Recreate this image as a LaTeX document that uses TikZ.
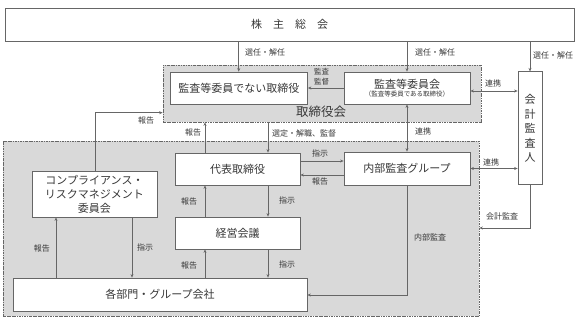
\documentclass[tikz,border=0pt]{standalone}
\usepackage{fontspec}
\setmainfont{Noto Sans CJK JP}
\usetikzlibrary{arrows.meta,calc}
\definecolor{linec}{HTML}{666666}
\definecolor{txtc}{HTML}{383838}
\definecolor{regfill}{HTML}{D9D9D9}
\begin{document}
\begin{tikzpicture}[x=1pt,y=-1pt,
  box/.style={draw=linec, line width=0.8pt, fill=white, rectangle, inner sep=0pt, align=center, text=txtc, font=\fontsize{11}{14}\selectfont},
  region/.style={draw=linec, fill=regfill, line width=0.7pt, dash pattern=on 2.5pt off 1pt on 0.7pt off 1pt, inner sep=0pt},
  lbl/.style={text=txtc, font=\fontsize{8}{9.5}\selectfont, inner sep=0pt, align=center},
  arr/.style={draw=linec, line width=0.8pt, -{Stealth[length=3.5pt,width=3pt]}},
  darr/.style={draw=linec, line width=0.8pt, {Stealth[length=3.5pt,width=3pt]}-{Stealth[length=3.5pt,width=3pt]}}]
\useasboundingbox (0,0) rectangle (579,319);
% regions
\node[region, minimum width=318pt, minimum height=57pt] (tori) at (322,93.5) {};
\node[region, minimum width=476pt, minimum height=175pt] (bottom) at (241,228.5) {};
\node[text=txtc, font=\fontsize{12.5}{14}\selectfont, inner sep=0pt] (torilbl) at (321,111.5) {取締役会};
% boxes
\node[box, minimum width=569pt, minimum height=33pt] (share) at (289.5,24.5) {株　主　総　会};
\node[box, minimum width=137.5pt, minimum height=32pt] (nonaudit) at (238.75,88) {監査等委員でない取締役};
\node[box, minimum width=126pt, minimum height=32pt, font=\fontsize{11}{12}\selectfont] (audit) at (407,88) {監査等委員会\\[-3.5pt]{\fontsize{6.5}{8}\selectfont （監査等委員である取締役）}};
\node[box, minimum width=24pt, minimum height=113pt, font=\fontsize{11}{14.5}\selectfont] (kaikei) at (530,128.3) {会\\計\\監\\査\\人};
\node[box, minimum width=125pt, minimum height=32pt] (daihyo) at (237.5,169) {代表取締役};
\node[box, minimum width=125pt, minimum height=32pt] (keiei) at (237.5,233) {経営会議};
\node[box, minimum width=125pt, minimum height=46pt] (comp) at (94.5,194) {コンプライアンス・\\リスクマネジメント\\委員会};
\node[box, minimum width=294pt, minimum height=33pt] (kakubu) at (160,294.5) {各部門・グループ会社};
\node[box, minimum width=126pt, minimum height=33pt] (naibu) at (407,168.5) {内部監査グループ};
% helper coordinates
\coordinate (c1) at ([yshift=-3pt]audit.east);
\coordinate (xl) at (205,0);
\coordinate (xr) at (268,0);
\coordinate (k2) at (kaikei.south |- 0,228);
\coordinate (n2) at (naibu.south |- 0,295);
\coordinate (p1) at (95,112.7);
\coordinate (cl) at (56,0);
\coordinate (cr) at (132,0);
% connectors
\draw[arr] (share.south -| nonaudit.north) -- (nonaudit.north);
\draw[arr] (share.south -| audit.north) -- (audit.north);
\draw[arr] (share.south -| kaikei.north) -- (kaikei.north);
\draw[arr] (audit.west) -- (nonaudit.east);
\draw[darr] (c1) -- (c1 -| kaikei.west);
\draw[darr] (audit.south) -- (naibu.north);
\draw[darr] (naibu.east) -- (naibu.east -| kaikei.west);
\draw[arr] (kaikei.south) -- (k2) -- (k2 -| bottom.east);
\draw[arr] (naibu.south) -- (n2) -- (n2 -| kakubu.east);
\draw[arr] (daihyo.north -| xl) -- (tori.south -| xl);
\draw[arr] (tori.south -| xr) -- (daihyo.north -| xr);
\draw[arr] (daihyo.east |- 0,161) -- (naibu.west |- 0,161);
\draw[arr] (naibu.west |- 0,175) -- (daihyo.east |- 0,175);
\draw[arr] (keiei.north -| xl) -- (daihyo.south -| xl);
\draw[arr] (daihyo.south -| xr) -- (keiei.north -| xr);
\draw[arr] (kakubu.north -| xl) -- (keiei.south -| xl);
\draw[arr] (keiei.south -| xr) -- (kakubu.north -| xr);
\draw[arr] (kakubu.north -| cl) -- (comp.south -| cl);
\draw[arr] (comp.south -| cr) -- (kakubu.north -| cr);
\draw[arr] (comp.north -| p1) -- (p1) -- (p1 -| tori.west);
% labels
\node[lbl, anchor=west] (l1) at (245,52) {選任・解任};
\node[lbl, anchor=west] (l2) at (415,52) {選任・解任};
\node[lbl, anchor=west] (l3) at (533,55) {選任・解任};
\node[lbl, font=\fontsize{7.5}{10}\selectfont] (l4) at (321.5,76.5) {監査\\監督};
\node[lbl] (l5) at (493,83.5) {連携};
\node[lbl] (l6) at (423,131) {連携};
\node[lbl] (l7) at (491,162) {連携};
\node[lbl] (l8) at (502,216) {会計監査};
\node[lbl] (l9) at (430,237) {内部監査};
\node[lbl] (l10) at (193,132) {報告};
\node[lbl, anchor=west] (l11) at (272,133) {選定・解職、監督};
\node[lbl] (l12) at (320,153) {指示};
\node[lbl] (l13) at (320,181.5) {報告};
\node[lbl] (l14) at (189,201) {報告};
\node[lbl] (l15) at (287,200) {指示};
\node[lbl] (l16) at (189,265.5) {報告};
\node[lbl] (l17) at (287,264.5) {指示};
\node[lbl] (l18) at (42,248) {報告};
\node[lbl] (l19) at (145,247) {指示};
\node[lbl] (l20) at (146,120) {報告};
\end{tikzpicture}
\end{document}
